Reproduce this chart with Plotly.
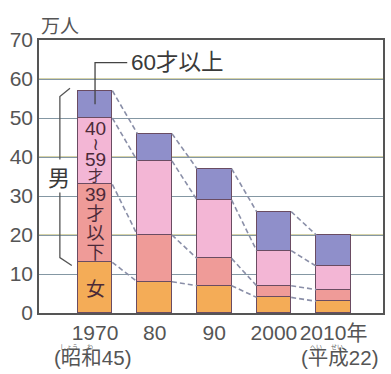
import numpy as np
import plotly.graph_objects as go

# 漁業就業者数（万人）: 年別・男女年齢別の内訳
years = ["1970", "80", "90", "2000", "2010年"]
female = [13, 8, 7, 4, 3]
male_39_under = [20, 12, 7, 3, 3]
male_40_59 = [17, 19, 15, 9, 6]
age_60_over = [7, 7, 8, 10, 8]
y_ticks = [0, 10, 20, 30, 40, 50, 60, 70]

NUM_FONT = "Liberation Sans, Noto Sans CJK JP, DejaVu Sans, sans-serif"
JP_FONT = "Noto Sans CJK JP, sans-serif"
TEXT_DARK = "#3a3a3a"
IN_BAR = "#4b2a38"

series = [
    ("女", female, "#f4ac57"),
    ("39才以下", male_39_under, "#ef9b98"),
    ("40〜59才", male_40_59, "#f3b6d5"),
    ("60才以上", age_60_over, "#8f8fca"),
]
BAR_W = 0.58
x = np.arange(len(years))

fig = go.Figure()
for name, vals, color in series:
    fig.add_bar(
        x=x, y=vals, name=name, width=BAR_W,
        marker=dict(color=color, line=dict(color="#6a4c62", width=1.5)),
    )

# dashed connectors between the same boundary of neighbouring bars
levels = np.cumsum([s[1] for s in series], axis=0)
for level in levels:
    for i in range(len(years) - 1):
        fig.add_scatter(
            x=[x[i] + BAR_W / 2, x[i + 1] - BAR_W / 2],
            y=[level[i], level[i + 1]],
            mode="lines",
            line=dict(color="#8a8fa8", width=1.6, dash="5px,3px"),
            hoverinfo="skip",
        )

# alternating grid colours: olive on 20/40/60 over the slate axis grid
shapes = [
    dict(type="line", xref="paper", x0=0, x1=1, yref="y", y0=v, y1=v,
         line=dict(color="#c9c58c", width=1.4), layer="between")
    for v in y_ticks[2:-1:2]
]

# callout for the 60+ segment of the first bar
top0 = levels[-1][0]
mid60 = levels[-2][0] + age_60_over[0] / 2
call_y = 64.2
shapes.append(dict(type="path", xref="x", yref="y",
                   path=f"M 0 {mid60} L 0 {call_y} L 0.54 {call_y}",
                   line=dict(color="#444", width=1.3)))
# bracket for the male part of the first bar
male_lo = levels[0][0]
shapes.append(dict(type="path", xref="x", yref="y",
                   path=f"M -0.42 {top0 + 0.6} L -0.59 {top0 - 1.5} L -0.59 {male_lo + 1.2} L -0.39 {male_lo - 0.8}",
                   line=dict(color="#555", width=1.3)))

ann = []
ann.append(dict(text="60才以上", x=0.57, y=call_y, xref="x", yref="y",
                xanchor="left", yanchor="middle", showarrow=False,
                font=dict(family=NUM_FONT, size=22.5, color=TEXT_DARK)))
ann.append(dict(text="男", x=-0.6, y=35.2, xref="x", yref="y", showarrow=False,
                bgcolor="white", borderpad=0,
                font=dict(family=JP_FONT, size=22, color=TEXT_DARK)))


def stacked(parts):
    """Vertical writing: one character group per line, each with its own size."""
    return "<br>".join(f"<span style='font-size:{s}px'>{t}</span>" for t, s in parts)


# age labels written vertically inside the first bar
ann.append(dict(text=stacked([("40", 19), ("≀", 17), ("59", 19), ("才", 15)]),
                x=0, y=41.6, xref="x", yref="y", showarrow=False, borderpad=0,
                font=dict(family=NUM_FONT, size=11.8, color=IN_BAR)))
ann.append(dict(text=stacked([("39", 19), ("才", 18), ("以", 18), ("下", 18)]),
                x=0, y=22.9, xref="x", yref="y", showarrow=False, borderpad=0,
                font=dict(family=NUM_FONT, size=14.8, color=IN_BAR)))
ann.append(dict(text="女", x=0, y=female[0] / 2, xref="x", yref="y", showarrow=False,
                font=dict(family=JP_FONT, size=19, color=IN_BAR)))

ann.append(dict(text="万人", x=0, y=1, xref="paper", yref="paper",
                xanchor="left", yanchor="middle", yshift=16, showarrow=False,
                font=dict(family=JP_FONT, size=19, color="#555")))

# era names under the first and last years, furigana on the line above
RUBY = "<span style='font-size:6px;fill:#666'>{}</span>"
ERA = "<span style='font-size:20.5px'>{}</span>"
eras = [
    (0, -3, "\u3000しょう\u3000\u2002わ", "(昭和45)"),
    (4, 6, "\u3000\u2002へい\u3000\u2002せい", "(平成22)"),
]
for xv, xs, ruby, era in eras:
    ann.append(dict(text=RUBY.format(ruby) + "<br>" + ERA.format(era),
                    x=xv, y=0, xref="x", yref="paper", xshift=xs,
                    xanchor="center", yanchor="top", yshift=-30, align="left",
                    showarrow=False, borderpad=0,
                    font=dict(family=NUM_FONT, size=12.5, color="#555")))

fig.update_layout(
    width=391, height=374,
    margin=dict(l=39, r=6, t=40, b=61),
    barmode="stack", bargap=0,
    showlegend=False,
    plot_bgcolor="white", paper_bgcolor="white",
    shapes=shapes, annotations=ann,
    xaxis=dict(range=[-0.94, 4.83], tickvals=x, ticktext=years,
               showgrid=False, zeroline=False, showline=True, linecolor="#555",
               linewidth=1.5, mirror=True, ticks="",
               tickfont=dict(family=NUM_FONT, size=21, color="#555")),
    yaxis=dict(range=[0, 70], tickvals=y_ticks, showgrid=True, gridcolor="#8497a3",
               gridwidth=1.4, zeroline=False, showline=True, linecolor="#555",
               linewidth=1.5, mirror=True, ticks="",
               tickfont=dict(family=NUM_FONT, size=21, color="#555")),
)

fig.write_html("out.html")
